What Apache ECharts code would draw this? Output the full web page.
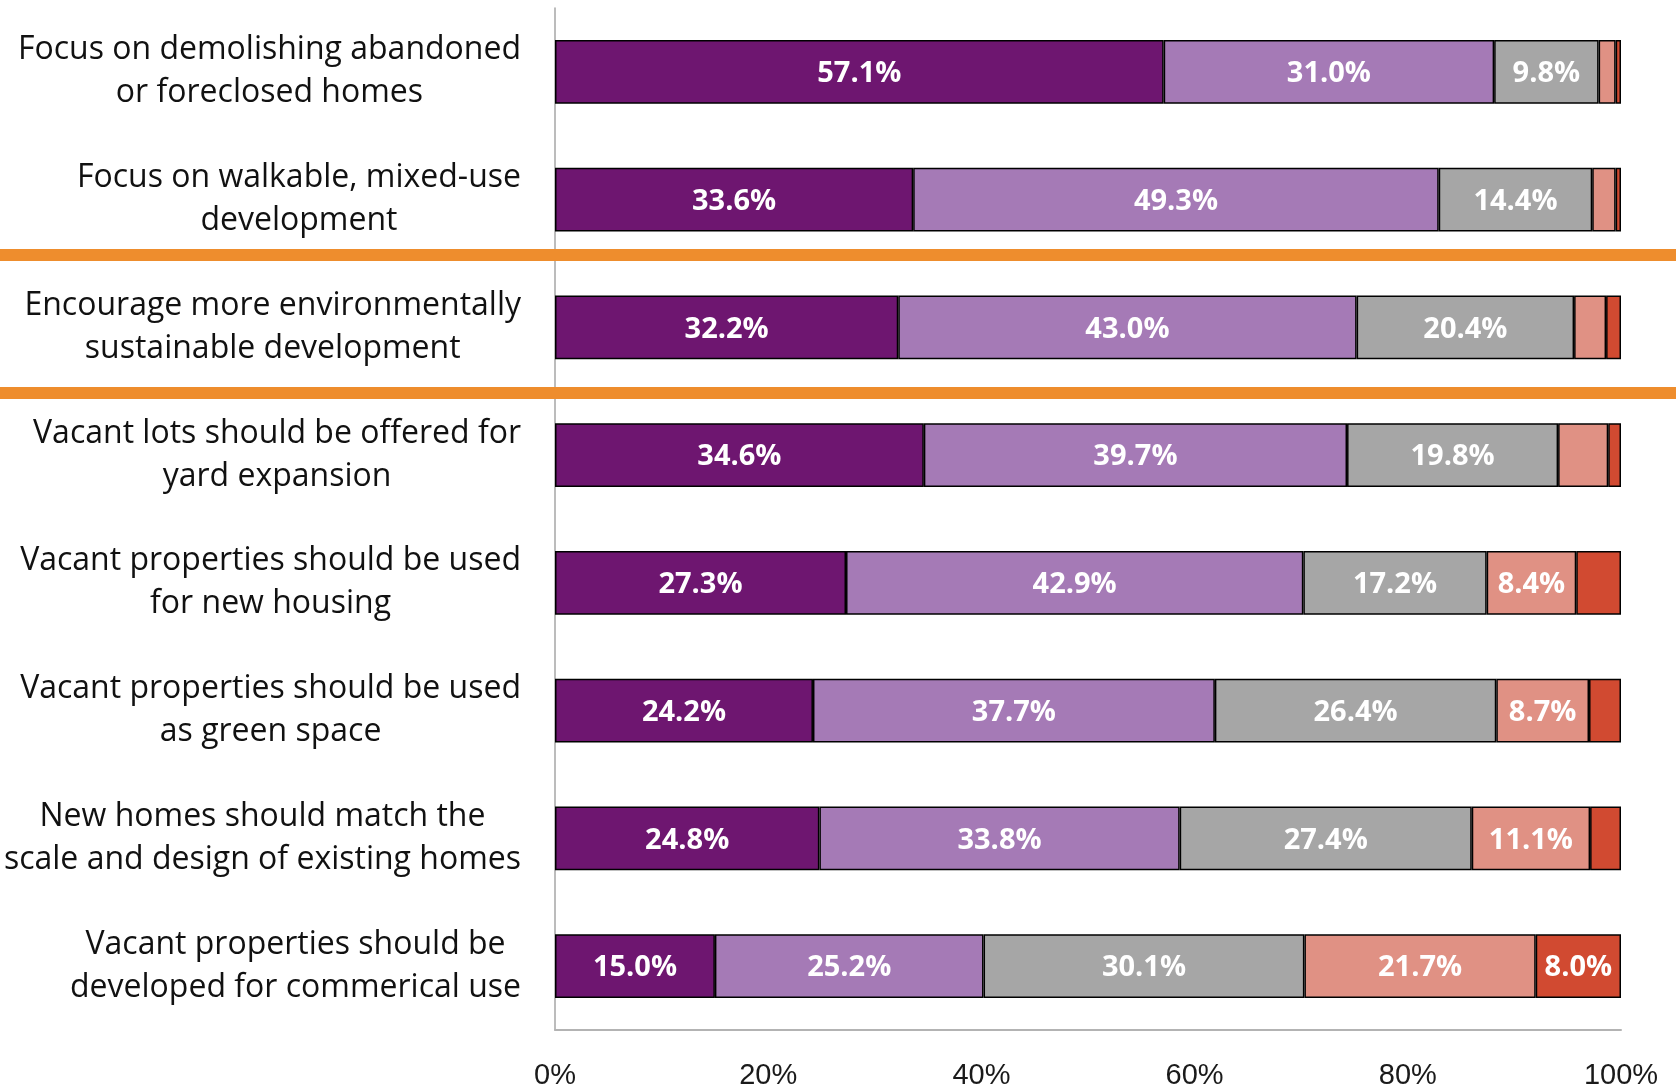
<!DOCTYPE html>
<html>
<head>
<meta charset="utf-8">
<script src="https://cdn.jsdelivr.net/npm/echarts@6/dist/echarts.min.js"></script>
<style>
html,body{margin:0;padding:0;background:#fff;}
#chart{width:1676px;height:1091px;}
</style>
</head>
<body>
<div id="chart"></div>
<script>
const categories = [
  "Focus on demolishing abandoned\nor foreclosed homes",
  "Focus on walkable, mixed-use\ndevelopment",
  "Encourage more environmentally\nsustainable development",
  "Vacant lots should be offered for\nyard expansion",
  "Vacant properties should be used\nfor new housing",
  "Vacant properties should be used\nas green space",
  "New homes should match the\nscale and design of existing homes",
  "Vacant properties should be\ndeveloped for commerical use"
];
const stronglyAgree    = [57.1, 33.6, 32.2, 34.6, 27.3, 24.2, 24.8, 15.0];
const agree            = [31.0, 49.3, 43.0, 39.7, 42.9, 37.7, 33.8, 25.2];
const neutral          = [9.8, 14.4, 20.4, 19.8, 17.2, 26.4, 27.4, 30.1];
const disagree         = [1.6, 2.2, 3.0, 4.7, 8.4, 8.7, 11.1, 21.7];
const stronglyDisagree = [0.5, 0.5, 1.4, 1.2, 4.2, 3.0, 2.9, 8.0];
const xTicks = [0, 20, 40, 60, 80, 100];

const seriesDefs = [
  {name: "Strongly agree", data: stronglyAgree, color: "#6E1670"},
  {name: "Agree", data: agree, color: "#A57AB6"},
  {name: "Neutral", data: neutral, color: "#A6A6A6"},
  {name: "Disagree", data: disagree, color: "#E09184"},
  {name: "Strongly disagree", data: stronglyDisagree, color: "#D14A31"}
];

const chart = echarts.init(document.getElementById('chart'), null, {renderer: 'canvas'});

const option = {
  animation: false,
  backgroundColor: '#ffffff',
  grid: {left: 555, right: 55, top: 8, bottom: 61, containLabel: false},
  xAxis: {
    type: 'value',
    min: xTicks[0], max: xTicks[xTicks.length - 1], interval: 20,
    axisLine: {show: true, lineStyle: {color: '#B3B3B3', width: 2}},
    axisTick: {show: false},
    splitLine: {show: false},
    axisLabel: {
      formatter: v => v + '%',
      fontFamily: 'Liberation Sans, Arial, sans-serif',
      fontSize: 29, color: '#1a1a1a', margin: 31
    }
  },
  yAxis: {
    type: 'category',
    inverse: true,
    data: categories,
    axisLine: {show: true, lineStyle: {color: '#A6A6A6', width: 1.5}},
    axisTick: {show: false},
    splitLine: {show: false},
    axisLabel: {
      margin: 34,
      formatter: v => v.split('\n').map(l => '{c|' + l + '}').join('\n'),
      rich: {
        c: {align: 'center', fontFamily: 'Open Sans', fontSize: 32, lineHeight: 43, color: '#111111'}
      }
    }
  },
  series: seriesDefs.map(s => ({
    name: s.name,
    type: 'bar',
    stack: 'total',
    barWidth: '50%',
    data: s.data,
    itemStyle: {color: s.color, borderColor: '#000000', borderWidth: 1.5},
    label: {
      show: true,
      position: 'inside',
      offset: [0, 2],
      formatter: p => p.value >= 8 ? p.value.toFixed(1) + '%' : '',
      fontFamily: 'Open Sans',
      fontWeight: 'bold',
      fontSize: 29,
      color: '#ffffff'
    }
  }))
};
chart.setOption(option);

function sepY(i, offset) {
  const a = chart.convertToPixel({yAxisIndex: 0}, categories[i]);
  const b = chart.convertToPixel({yAxisIndex: 0}, categories[i + 1]);
  return (a + b) / 2 + offset;
}
const lineH = 12;
chart.setOption({
  graphic: [
    {type: 'rect', z: 100, shape: {x: 0, y: sepY(1, -8.5) - lineH / 2, width: 1676, height: lineH}, style: {fill: '#EE8D2D'}},
    {type: 'rect', z: 100, shape: {x: 0, y: sepY(2, 1.75) - lineH / 2, width: 1676, height: lineH}, style: {fill: '#EE8D2D'}}
  ]
});
</script>
</body>
</html>
